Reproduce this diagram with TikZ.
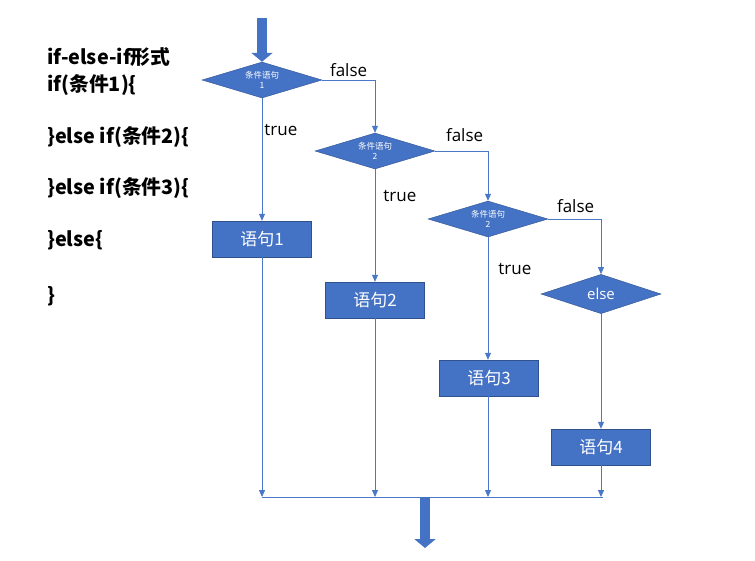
\documentclass[tikz,border=0pt]{standalone}
\usepackage{fontspec}
\setmainfont{Open Sans}
\newfontfamily\cjk{Noto Sans CJK SC}
\usetikzlibrary{
  shapes.geometric,
  arrows.meta
}
\definecolor{flowblue}{HTML}{4472C4}
\definecolor{flowedge}{HTML}{2F528F}
\definecolor{flowline}{HTML}{4A78C8}
\tikzset{
  cond/.style={diamond, draw=flowedge, fill=flowblue, minimum width=120pt, minimum height=36pt, inner sep=0pt},
  condtext/.style={text=white, font=\cjk\fontsize{8.5}{10}\selectfont, align=center, inner sep=0pt},
  stmt/.style={draw=flowedge, fill=flowblue, minimum width=99pt, minimum height=36pt, inner sep=0pt, text=white, font=\cjk\fontsize{17}{20}\selectfont},
  flow/.style={flowline, line width=0.8pt, -{Triangle[width=6pt,length=7pt]}},
  plain/.style={flowline, line width=0.8pt},
  bigarrow/.style={flowblue, line width=10pt, -{Triangle[width=21pt,length=9pt]}},
  tag/.style={text=black, font=\fontsize{17}{20}\selectfont, inner sep=2pt},
  code/.style={anchor=west, font=\cjk\bfseries\fontsize{19.8}{22}\selectfont, inner sep=0pt}
}
\begin{document}
\begin{tikzpicture}[x=1pt, y=-1pt]
        \useasboundingbox (0,0) rectangle (755,560);
        % code text on the left
        \node[code] (l1) at (47, 57) {if-else-if形式};
        \node[code] (l2) at (47, 85) {if(条件1)\{};
        \node[code] (l3) at (47,137) {\}else if(条件2)\{};
        \node[code] (l4) at (47,188) {\}else if(条件3)\{};
        \node[code] (l5) at (47,240) {\}else\{};
        \node[code] (l6) at (47,296) {\}};
        % conditions
        \node[cond, label={[condtext]center:{条件语句\\1}}] (c1) at (262, 80) {};
        \node[cond, label={[condtext]center:{条件语句\\2}}] (c2) at (375,151) {};
        \node[cond, label={[condtext]center:{条件语句\\2}}] (c3) at (488,219) {};
        \node[cond, text=white, font=\fontsize{15}{18}\selectfont] (c4) at (601,294) {else};
        % statements
        \node[stmt] (b1) at (262,239) {语句1};
        \node[stmt] (b2) at (375,300) {语句2};
        \node[stmt] (b3) at (489,378) {语句3};
        \node[stmt] (b4) at (601,447) {语句4};
        % in and out
        \coordinate (start) at (262, 18);
        \coordinate (m1) at (262,497);
        \coordinate (m2) at (375,497);
        \coordinate (m3) at (488,497);
        \coordinate (m4) at (601,497);
        \coordinate (mend) at (603,497);
        \coordinate (out0) at (425,497);
        \coordinate (out1) at (425,548);
        \draw[bigarrow] (start) -- (c1.north);
        % false branches
        \draw[flow] (c1.east) -| node[tag, pos=0.25, above, yshift=1pt] {false} (c2.north);
        \draw[flow] (c2.east) -| node[tag, pos=0.25, above, yshift=7pt, xshift=3pt] {false} (c3.north);
        \draw[flow] (c3.east) -| node[tag, pos=0.25, above, yshift=4pt, xshift=1pt] {false} (c4.north);
        % true branches
        \draw[flow] (c1.south) -- node[tag, pos=0.26, right] {true} (b1.north);
        \draw[flow] (c2.south) -- node[tag, pos=0.24, right, xshift=6pt] {true} (b2.north);
        \draw[flow] (c3.south) -- node[tag, pos=0.26, right, xshift=8pt] {true} (c3.south |- b3.north);
        \draw[flow] (c4.south) -- (b4.north);
        % join
        \draw[flow] (b1.south) -- (m1);
        \draw[flow] (b2.south) -- (m2);
        \draw[flow] (m3 |- b3.south) -- (m3);
        \draw[flow] (b4.south) -- (m4);
        \draw[plain] (m1) -- (mend);
        \draw[bigarrow] (out0) -- (out1);
\end{tikzpicture}
\end{document}
